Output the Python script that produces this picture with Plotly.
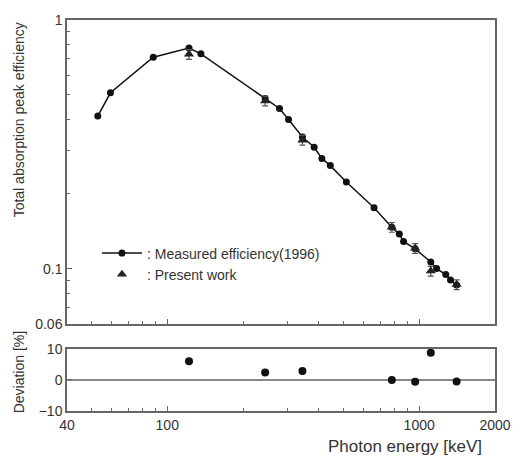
import plotly.graph_objects as go

# Measured efficiency (1996)
meas_energy = [53, 59.5, 88, 122, 136, 244.7, 279, 303, 344, 383, 411, 444, 514,
               662, 779, 834, 867, 964, 1112, 1173, 1275, 1332, 1408]
meas_eff = [0.411, 0.510, 0.709, 0.772, 0.731, 0.484, 0.441, 0.398, 0.339, 0.308,
            0.278, 0.260, 0.2235, 0.176, 0.147, 0.138, 0.129, 0.1204, 0.1066,
            0.1003, 0.0949, 0.0902, 0.0861]

# Present work
pw_energy = [122, 244.7, 344, 779, 964, 1112, 1408]
pw_eff = [0.728, 0.473, 0.329, 0.147, 0.121, 0.098, 0.0865]

# Deviation [%]
dev_energy = [122, 244.7, 344, 779, 964, 1112, 1408]
dev_values = [6.0, 2.4, 2.9, 0.0, -0.6, 8.75, -0.5]

x_tickvals = [40, 100, 1000, 2000]
x_ticktext = ["40", "100", "1000", "2000"]
x_minor = [50, 60, 70, 80, 90, 200, 300, 400, 500, 600, 700, 800, 900]
y_tickvals = [0.06, 0.1, 1]
y_ticktext = ["0.06", "0.1", "1"]
y_minor = [0.07, 0.08, 0.09, 0.2, 0.3, 0.4, 0.5, 0.6, 0.7, 0.8, 0.9]

FONT = "Liberation Sans, Arial, sans-serif"
AX = "#666666"
TXT = "#333333"

fig = go.Figure()
fig.add_trace(go.Scatter(
    x=meas_energy, y=meas_eff, mode="lines+markers",
    name=": Measured efficiency(1996)",
    line=dict(color="#111111", width=1.5),
    marker=dict(symbol="circle", size=7, color="#111111"),
    xaxis="x", yaxis="y"))
fig.add_trace(go.Scatter(
    x=pw_energy, y=pw_eff, mode="markers",
    name=": Present work",
    marker=dict(symbol="triangle-up", size=9, color="#222222"),
    error_y=dict(type="percent", value=4.5, color="#555555",
                 thickness=1.2, width=3),
    xaxis="x", yaxis="y"))
fig.add_trace(go.Scatter(
    x=dev_energy, y=dev_values, mode="markers", showlegend=False,
    marker=dict(symbol="circle", size=8, color="#111111"),
    xaxis="x2", yaxis="y2"))

common_x = dict(type="log", range=[1.60206, 3.30103], showline=True, mirror=True,
                linecolor=AX, linewidth=1.5, ticks="inside", ticklen=5,
                tickcolor=AX, tickvals=x_tickvals, ticktext=x_ticktext,
                showgrid=False, zeroline=False,
                minor=dict(ticks="inside", ticklen=3, tickcolor=AX, tickvals=x_minor,
                           showgrid=False),
                tickfont=dict(family=FONT, size=14, color=TXT))

fig.update_layout(
    width=523, height=459,
    margin=dict(l=67, r=23, t=15, b=48),
    paper_bgcolor="white", plot_bgcolor="white",
    font=dict(family=FONT, size=14, color=TXT),
    xaxis=dict(**common_x, anchor="y", showticklabels=False, matches="x2"),
    yaxis=dict(type="log", range=[-1.2218, 0], domain=[0.2222, 1],
               showline=True, mirror=True, linecolor=AX, linewidth=1.5,
               ticks="inside", ticklen=5, tickcolor=AX,
               tickvals=y_tickvals, ticktext=y_ticktext, showgrid=False,
               zeroline=False,
               minor=dict(ticks="inside", ticklen=3, tickcolor=AX,
                          tickvals=y_minor, showgrid=False),
               tickfont=dict(family=FONT, size=14, color=TXT)),
    xaxis2=dict(**common_x, anchor="y2"),
    yaxis2=dict(range=[-10, 10], domain=[0, 0.159], showline=True, mirror=True,
                linecolor=AX, linewidth=1.5, ticks="inside", ticklen=5,
                tickcolor=AX, tickvals=[-10, 0, 10], showgrid=False,
                zeroline=True, zerolinecolor="#888888", zerolinewidth=1.5,
                tickfont=dict(family=FONT, size=14, color=TXT)),
    legend=dict(x=0.07, y=0.376, xanchor="left", yanchor="middle",
                bgcolor="rgba(0,0,0,0)", font=dict(family=FONT, size=14, color=TXT),
                tracegroupgap=0, itemwidth=40),
    annotations=[
        dict(text="Total absorption peak efficiency", xref="paper", yref="paper",
             x=-0.113, y=0.745, xanchor="center", yanchor="middle",
             textangle=-90, showarrow=False,
             font=dict(family=FONT, size=14, color=TXT)),
        dict(text="Deviation [%]", xref="paper", yref="paper",
             x=-0.113, y=0.098, xanchor="center", yanchor="middle",
             textangle=-90, showarrow=False,
             font=dict(family=FONT, size=14, color=TXT)),
        dict(text="Photon energy [keV]", xref="paper", yref="paper",
             x=0.79, y=-0.09, xanchor="center", yanchor="middle", showarrow=False,
             font=dict(family=FONT, size=17, color=TXT)),
    ],
)

fig.write_html("out.html")
